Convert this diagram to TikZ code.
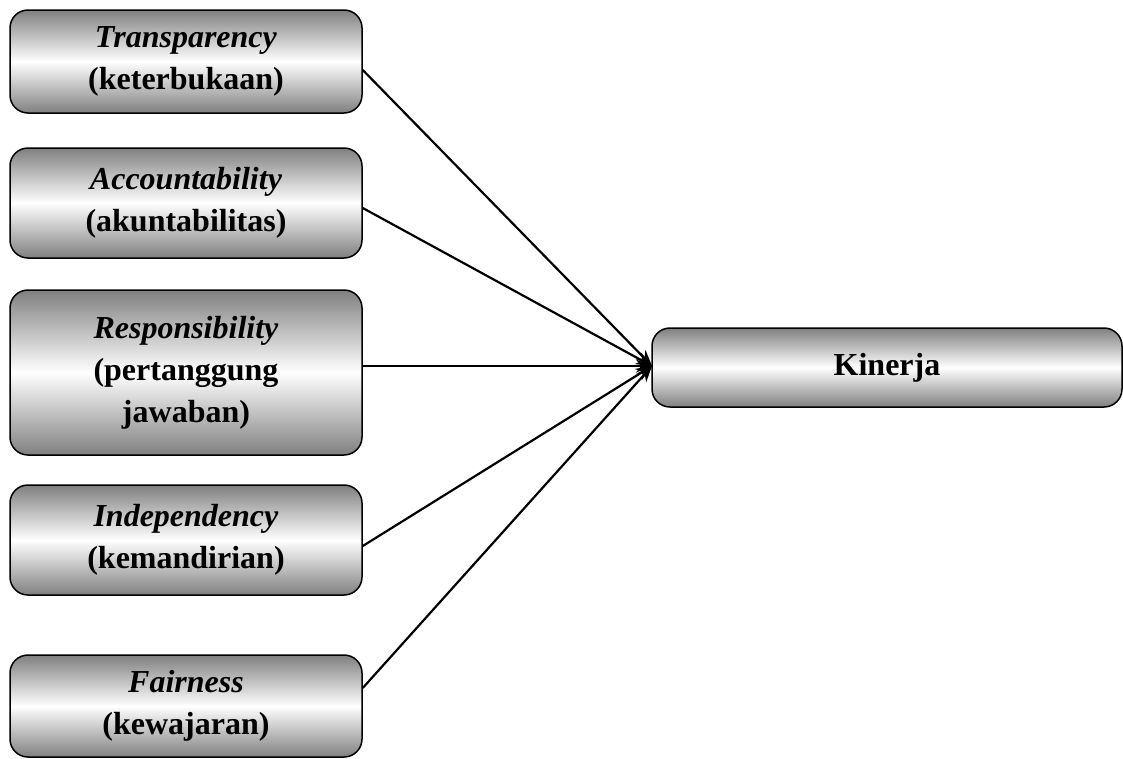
\documentclass[tikz,border=0pt]{standalone}
\usepackage{fontspec}
\setmainfont{Liberation Serif}
\usetikzlibrary{arrows.meta}
\begin{document}
\begin{tikzpicture}[x=1pt,y=-1pt,
  gbox/.style={draw=black, line width=1.5pt, rounded corners=18pt,
    top color=gray, bottom color=gray, middle color=white,
    minimum width=352pt, inner sep=0pt, align=center,
    font=\fontsize{32}{42}\selectfont\bfseries},
  conn/.style={line width=2.2pt, -{Stealth[length=16pt,width=13pt]}}]
\useasboundingbox (0,0) rectangle (1123,758);
\node[gbox, minimum height=103pt] (t) at (186,61.5) {\textit{Transparency}\\(keterbukaan)};
\node[gbox, minimum height=110pt] (a) at (186,203) {\textit{Accountability}\\(akuntabilitas)};
\node[gbox, minimum height=165pt] (r) at (186,372.5) {\textit{Responsibility}\\(pertanggung\\jawaban)};
\node[gbox, minimum height=110pt] (i) at (186,540) {\textit{Independency}\\(kemandirian)};
\node[gbox, minimum height=102pt] (f) at (186,706) {\textit{Fairness}\\(kewajaran)};
\node[gbox, minimum width=470pt, minimum height=79pt] (k) at (887,367.5) {Kinerja};
\coordinate (p) at (652,366);
\draw[conn] (t.east |- 0,70) -- (p);
\draw[conn] (a.east |- 0,208) -- (p);
\draw[conn] (r.east |- 0,366) -- (p);
\draw[conn] (i.east |- 0,546) -- (p);
\draw[conn] (f.east |- 0,688) -- (p);
\end{tikzpicture}
\end{document}
